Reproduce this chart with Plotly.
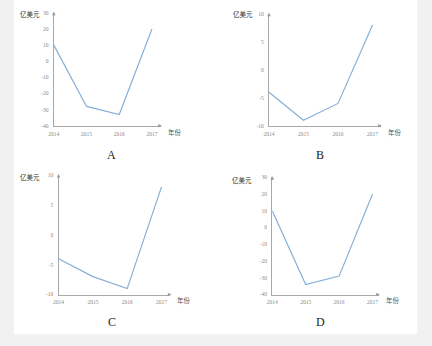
import plotly.graph_objects as go

# Four candidate line charts (A-D) of yearly values, unit: 亿美元
years = [2014, 2015, 2016, 2017]
values_a = [10, -28, -33, 20]
values_b = [-4, -9, -6, 8]
values_c = [-4, -7, -9, 8]
values_d = [10, -34, -29, 20]
panel_letters = ["A", "B", "C", "D"]
ticks_wide = [30, 20, 10, 0, -10, -20, -30, -40]
ticks_narrow = [10, 5, 0, -5, -10]

W, H = 432, 346
LINE = "#86b0d8"
AXIS = "#a8a8a8"
TXT = "#555555"
TICKFONT = dict(family="Liberation Serif", size=5.5, color="#8a8a8a")


def px_x(p):
    return p / W


def px_y(p):
    return 1 - p / H


# panel: (values, ticks, x0px, x2017px, xendpx, ytop_px, ybot_px, letter pos, unit label right edge/y)
panels = [
    (values_a, ticks_wide, 48.5, 148, 157, 10, 125, (107, 155), (37, 11)),
    (values_b, ticks_narrow, 266.7, 371.7, 380, 11, 125, (318, 155), (252, 11)),
    (values_c, ticks_narrow, 53.3, 157.7, 166.7, 175, 296.7, (107, 325), (37, 177)),
    (values_d, ticks_wide, 270, 371.7, 378, 177.3, 296.7, (319, 325), (251, 180)),
]

fig = go.Figure()
annotations = []
for i, (vals, ticks, x0, x3, xe, yt, yb, lpos, ypos) in enumerate(panels):
    n = "" if i == 0 else str(i + 1)
    step = (x3 - x0) / 3
    xmax = 2017 + (xe - x3) / step
    fig.add_trace(go.Scatter(
        x=years, y=vals, mode="lines", line=dict(color=LINE, width=1.2),
        xaxis="x" + n, yaxis="y" + n, showlegend=False, hoverinfo="skip"))
    fig.layout["xaxis" + n] = dict(
        domain=[px_x(x0), px_x(xe)], range=[2014, xmax], anchor="y" + n,
        tickvals=years, ticktext=[str(y) for y in years], showgrid=False,
        zeroline=False, showline=True, linecolor=AXIS, linewidth=1.3,
        ticks="", tickfont=TICKFONT, ticklabelstandoff=2, fixedrange=True)
    fig.layout["yaxis" + n] = dict(
        domain=[px_y(yb), px_y(yt)], range=[min(ticks), max(ticks)],
        anchor="x" + n, tickvals=ticks, ticktext=[str(t) for t in ticks],
        showgrid=False, zeroline=False, showline=True, linecolor=AXIS,
        linewidth=1.3, ticks="", tickfont=TICKFONT, ticklabelstandoff=3,
        fixedrange=True)
    # small arrow heads at the ends of both axes
    annotations.append(dict(
        x=px_x(x0), y=px_y(yt - 1), xref="paper", yref="paper", text="",
        showarrow=True, arrowhead=2, arrowsize=0.7, arrowwidth=1,
        arrowcolor="#9a9a9a", ax=0, ay=5))
    annotations.append(dict(
        x=px_x(xe + 1), y=px_y(yb), xref="paper", yref="paper", text="",
        showarrow=True, arrowhead=2, arrowsize=0.7, arrowwidth=1,
        arrowcolor="#9a9a9a", ax=-5, ay=0))
    annotations.append(dict(
        x=px_x(xe + 5), y=px_y(yb + 6), xref="paper", yref="paper",
        text="年份", showarrow=False, xanchor="left", yanchor="middle",
        font=dict(family="Noto Sans CJK SC", size=6.5, color=TXT)))
    annotations.append(dict(
        x=px_x(ypos[0]), y=px_y(ypos[1]), xref="paper", yref="paper",
        text="亿美元", showarrow=False, xanchor="right", yanchor="middle",
        font=dict(family="Noto Sans CJK SC", size=6.5, color="#333333")))
    annotations.append(dict(
        x=px_x(lpos[0]), y=px_y(lpos[1]), xref="paper", yref="paper",
        text=panel_letters[i], showarrow=False, xanchor="center",
        yanchor="middle",
        font=dict(family="Liberation Serif", size=12, color="#222222")))

fig.update_layout(
    width=W, height=H, margin=dict(l=0, r=0, t=0, b=0),
    paper_bgcolor="#f1f1f1", plot_bgcolor="rgba(0,0,0,0)",
    annotations=annotations,
    shapes=[dict(type="rect", xref="paper", yref="paper", layer="below",
                 x0=px_x(8), x1=px_x(417), y0=px_y(337), y1=1.01,
                 fillcolor="white", line=dict(width=0))],
)

fig.write_html("out.html")
